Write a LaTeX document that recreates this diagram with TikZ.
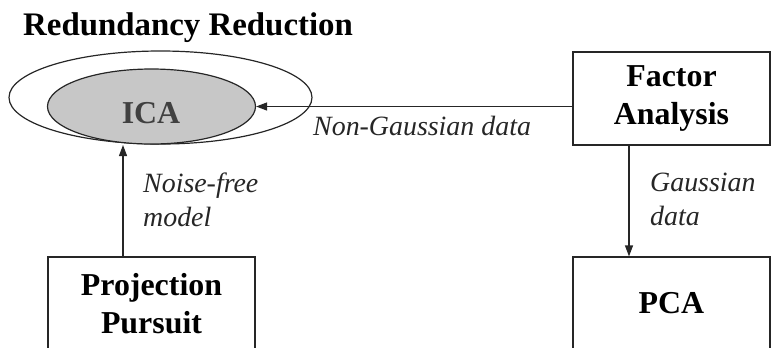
\documentclass[tikz,border=0pt]{standalone}
\usepackage{fontspec}
\setmainfont{Liberation Serif}
\usetikzlibrary{shapes.geometric,arrows.meta}

\tikzset{
  method/.style={draw=black!85, line width=1.2bp, rectangle, minimum width=197bp, minimum height=93bp, inner sep=0pt, align=center, font=\bfseries\fontsize{32}{37.5}\selectfont},
  edgelabel/.style={inner sep=0pt, align=left, font=\itshape\fontsize{28}{33.5}\selectfont, black!85},
  arr/.style={draw=black!85, line width=1.2bp, -{Triangle[length=11bp,width=8bp]}}
}

\begin{document}
\begin{tikzpicture}[x=1bp, y=-1bp]
  \useasboundingbox (0,0) rectangle (771,347);
  % Redundancy reduction: outer ellipse with ICA inside
  \node[font=\bfseries\fontsize{33}{36}\selectfont, anchor=base west, inner sep=0pt] (title) at (23,35) {Redundancy Reduction};
  \node[draw=black!85, line width=1.2bp, ellipse, minimum width=303bp, minimum height=93bp] (redund) at (160.5,97.5) {};
  \node[draw=black!85, line width=1.2bp, fill=black!22, ellipse, minimum width=208bp, minimum height=75bp] (ica) at (151.5,106.5) {};
  \node[font=\bfseries\fontsize{32}{36}\selectfont, text=black!75, anchor=base, inner sep=0pt] (icatext) at (151,123) {ICA};
  % boxes
  \node[method] (fa) at (671.5,98.5) {Factor\\Analysis};
  \node[method, minimum width=207bp] (pp) at (151.5,303.5) {Projection\\Pursuit};
  \node[method] (pca) at (671.5,303.5) {PCA};
  % connectors
  \coordinate (icabot) at (123,145);
  \draw[arr] (fa.west |- ica.east) -- (ica.east);
  \draw[arr] (pp.north -| icabot) -- (icabot);
  \draw[arr] ([xshift=-42.5bp]fa.south) -- ([xshift=-42.5bp]pca.north);
  % labels (base = last line)
  \node[edgelabel, anchor=base west] (ngauss) at (313,135) {Non-Gaussian data};
  \node[edgelabel, anchor=base west] (noisefree) at (143,226) {Noise-free\\model};
  \node[edgelabel, anchor=base west] (gauss) at (650,225) {Gaussian\\data};
\end{tikzpicture}
\end{document}
